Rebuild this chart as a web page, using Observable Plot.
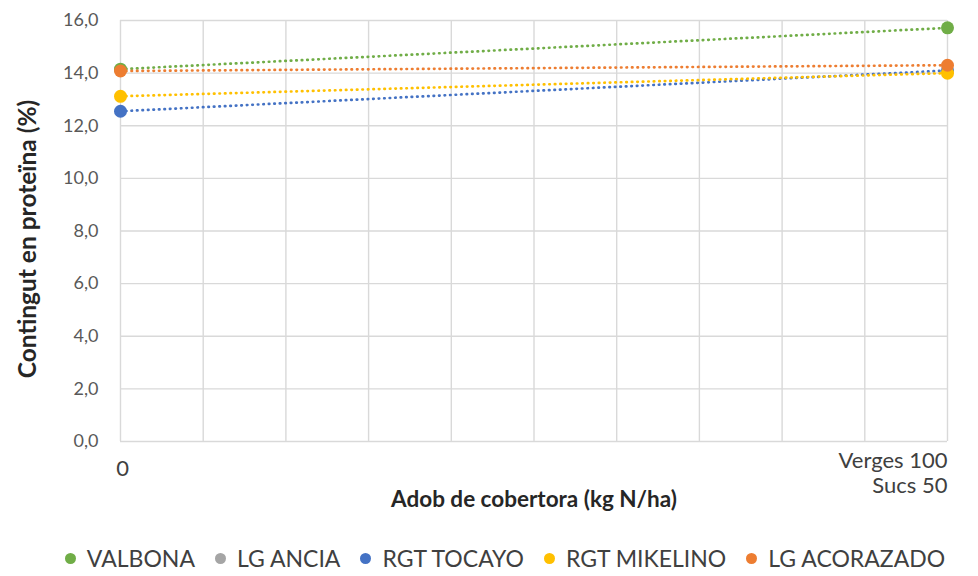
<!DOCTYPE html>
<html>
<head>
<meta charset="utf-8">
<script src="https://cdn.jsdelivr.net/npm/d3@7"></script>
<script src="https://cdn.jsdelivr.net/npm/@observablehq/plot@0.6"></script>
<style>
  html, body { margin: 0; padding: 0; background: #fff; }
  #chart { width: 978px; height: 576px; position: relative; font-family: Lato, "Open Sans", sans-serif; }
  .legend { position: absolute; left: 0; right: 0; top: 540px; height: 36px; display: flex; justify-content: center; align-items: center; gap: 20px; font-size: 23px; color: #404040; padding-left: 32px; }
  .legend span.item { display: flex; align-items: center; gap: 11px; }
  .legend span.sw { width: 11px; height: 11px; border-radius: 50%; display: inline-block; }
</style>
</head>
<body>
<div id="chart"></div>
<script>
const xLabels = ["0", "Verges 100\nSucs 50"];
const xPositions = [0, 10];
const series = ["VALBONA", "LG ANCIA", "RGT TOCAYO", "RGT MIKELINO", "LG ACORAZADO"];
const colors = ["#70ad47", "#a5a5a5", "#4472c4", "#ffc000", "#ed7d31"];
const valbona = [14.15, 15.72];
const lgAncia = [null, null];
const rgtTocayo = [12.55, 14.1];
const rgtMikelino = [13.12, 14.0];
const lgAcorazado = [14.08, 14.3];
const yTicks = [0, 2, 4, 6, 8, 10, 12, 14, 16];

const values = [valbona, lgAncia, rgtTocayo, rgtMikelino, lgAcorazado];
const data = [];
series.forEach((s, i) => values[i].forEach((v, j) => {
  if (v != null) data.push({series: s, x: xPositions[j], y: v});
}));

const fmt = d => d.toFixed(1).replace(".", ",");
const ff = "Lato, 'Open Sans', sans-serif";

const plot = Plot.plot({
  width: 978,
  height: 530,
  marginTop: 20,
  marginBottom: 89,
  marginLeft: 120,
  marginRight: 31,
  style: {fontFamily: ff, background: "white"},
  x: {domain: [0, 10], axis: null},
  y: {domain: [0, 16], axis: null},
  color: {domain: series, range: colors},
  marks: [
    Plot.gridX(d3.range(0, 11), {stroke: "#d9d9d9", strokeOpacity: 1, strokeWidth: 1.4}),
    Plot.gridY(yTicks, {stroke: "#d9d9d9", strokeOpacity: 1, strokeWidth: 1.4}),
    Plot.axisY({ticks: yTicks, tickSize: 0, tickPadding: 22, tickFormat: fmt, fontSize: 18, fill: "#595959", label: null}),
    Plot.text([xLabels[0]], {x: [xPositions[0]], frameAnchor: "bottom", lineAnchor: "top", dy: 19, fontSize: 22, fill: "#404040", textAnchor: "middle", dx: 2}),
    Plot.text([xLabels[1]], {x: [xPositions[1]], frameAnchor: "bottom", lineAnchor: "top", dy: 9, fontSize: 22, fill: "#404040", textAnchor: "end", lineHeight: 1.14}),
    Plot.text(["Adob de cobertora (kg N/ha)"], {frameAnchor: "bottom", lineAnchor: "middle", dy: 58, fontSize: 22.5, fontWeight: "bold", fill: "#262626"}),
    Plot.text(["Contingut en proteïna (%)"], {frameAnchor: "left", textAnchor: "middle", lineAnchor: "middle", dx: -92, dy: 8, rotate: -90, fontSize: 24.5, fontWeight: "bold", fill: "#262626"}),
    Plot.line(data, {x: "x", y: "y", z: "series", stroke: "series", strokeWidth: 2.7, strokeDasharray: "0.5,5", strokeLinecap: "round"}),
    Plot.dot(data, {x: "x", y: "y", fill: "series", r: 6.5})
  ]
});

const chart = document.getElementById("chart");
chart.appendChild(plot);
const legend = document.createElement("div");
legend.className = "legend";
series.forEach((s, i) => {
  const it = document.createElement("span");
  it.className = "item";
  const sw = document.createElement("span");
  sw.className = "sw";
  sw.style.background = colors[i];
  it.appendChild(sw);
  it.appendChild(document.createTextNode(s));
  legend.appendChild(it);
});
chart.appendChild(legend);
</script>
</body>
</html>
